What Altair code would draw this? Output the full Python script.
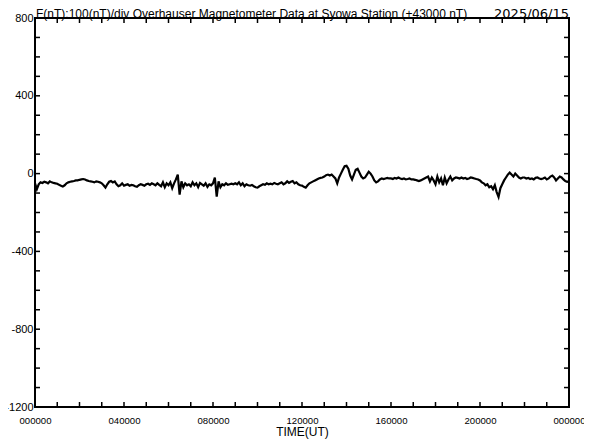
import altair as alt
import pandas as pd

# F (nT) minus 43000, 5-minute samples, one row per hour
h00 = [-50, -80, -55, -45, -48, -42, -45, -50, -40, -45, -48, -50]
h01 = [-52, -58, -62, -66, -60, -50, -45, -42, -40, -38, -35, -35]
h02 = [-32, -30, -28, -30, -35, -38, -40, -42, -45, -40, -42, -45]
h03 = [-50, -60, -72, -55, -42, -38, -45, -40, -55, -65, -60, -50]
h04 = [-62, -58, -55, -62, -58, -60, -65, -68, -60, -55, -58, -62]
h05 = [-55, -52, -58, -50, -55, -60, -50, -58, -65, -45, -70, -50]
h06 = [-60, -45, -75, -50, -30, -5, -108, -40, -70, -50, -60, -55]
h07 = [-65, -45, -60, -50, -70, -48, -55, -62, -50, -68, -55, -60]
h08 = [-50, -20, -118, -40, -70, -55, -60, -50, -58, -55, -52, -55]
h09 = [-50, -55, -45, -60, -50, -65, -55, -60, -62, -58, -65, -70]
h10 = [-72, -65, -60, -55, -58, -50, -55, -52, -55, -48, -52, -55]
h11 = [-50, -45, -55, -50, -40, -48, -42, -38, -50, -45, -55, -60]
h12 = [-62, -68, -72, -60, -50, -45, -40, -35, -30, -25, -22, -20]
h13 = [-15, -8, -5, -10, -5, -15, -25, -50, -20, 0, 20, 38]
h14 = [40, 25, -10, -30, -5, 20, 25, 5, -15, -25, -20, -5]
h15 = [10, 0, -15, -35, -45, -40, -30, -25, -28, -25, -22, -25]
h16 = [-25, -28, -22, -25, -20, -25, -28, -25, -30, -28, -25, -30]
h17 = [-30, -32, -35, -38, -35, -30, -25, -20, -15, -40, -20, -35]
h18 = [-55, -15, -45, -25, -60, -20, -50, -30, -15, -35, -25, -20]
h19 = [-22, -25, -20, -25, -22, -28, -25, -20, -22, -25, -28, -30]
h20 = [-35, -45, -50, -60, -55, -70, -65, -80, -60, -95, -120, -75]
h21 = [-55, -35, -20, -5, 5, -5, -15, 0, -10, -20, -25, -20]
h22 = [-20, -25, -22, -28, -25, -30, -22, -20, -25, -28, -25, -20]
h23 = [-30, -25, -15, -10, -20, -35, -25, -15, -20, -30, -38, -42]
end_value = [-40]

hours = [h00, h01, h02, h03, h04, h05, h06, h07, h08, h09, h10, h11,
         h12, h13, h14, h15, h16, h17, h18, h19, h20, h21, h22, h23]
values = [v for h in hours for v in h] + end_value
times = [i / 12 for i in range(len(values))]

y_label_values = [-1200, -800, -400, 0, 400, 800]
y_minor_ticks = list(range(-1100, 800, 100))
x_label_values = [0, 4, 8, 12, 16, 20, 24]
x_minor_ticks = list(range(1, 24))

title_text = "F(nT):100(nT)/div  Overhauser Magnetometer Data at Syowa Station (+43000 nT)"
date_text = "2025/06/15"

W, H = 534, 389
FONT = "Liberation Sans"

df = pd.DataFrame({"t": times, "v": values})
xs = alt.Scale(domain=[0, 24], nice=False, zero=False)
ys = alt.Scale(domain=[-1200, 800], nice=False, zero=False)

x_axis = alt.Axis(
    values=x_label_values,
    labelExpr="datum.value == 24 ? '000000' : (datum.value < 10 ? '0' : '') + datum.value + '0000'",
    tickSize=0, domain=False, grid=False, labelFlush=False, labelOverlap=False,
    labelFont=FONT, labelFontSize=9.6, labelColor="black", labelPadding=8,
    title="TIME(UT)", titleFont=FONT, titleFontSize=12, titleFontWeight="normal",
    titleColor="black", titlePadding=2)
y_axis = alt.Axis(
    values=y_label_values,
    labelExpr="datum.value < 0 ? '-' + abs(datum.value) : '' + datum.value",
    tickSize=0, domain=False, grid=False, labelOverlap=False,
    labelFont=FONT, labelFontSize=11, labelColor="black", labelPadding=2,
    title=None)

line = alt.Chart(df).mark_line(color="black", strokeWidth=2.2).encode(
    x=alt.X("t:Q", scale=xs, axis=x_axis),
    y=alt.Y("v:Q", scale=ys, axis=y_axis),
)

ydf = pd.DataFrame({"v": y_minor_ticks})
xdf = pd.DataFrame({"t": x_minor_ticks})

ytl = alt.Chart(ydf).mark_rule(color="black", strokeWidth=1.5).encode(
    y=alt.Y("v:Q", scale=ys, axis=y_axis), x=alt.value(0), x2=alt.value(5))
ytr = alt.Chart(ydf).mark_rule(color="black", strokeWidth=1.5).encode(
    y=alt.Y("v:Q", scale=ys, axis=y_axis), x=alt.value(W - 5), x2=alt.value(W))
xtt = alt.Chart(xdf).mark_rule(color="black", strokeWidth=1.5).encode(
    x=alt.X("t:Q", scale=xs, axis=x_axis), y=alt.value(0), y2=alt.value(5))
xtb = alt.Chart(xdf).mark_rule(color="black", strokeWidth=1.5).encode(
    x=alt.X("t:Q", scale=xs, axis=x_axis), y=alt.value(H - 5), y2=alt.value(H))

title = alt.Chart(pd.DataFrame({"s": [title_text]})).mark_text(
    align="left", baseline="alphabetic", font=FONT, fontSize=12, color="black"
).encode(x=alt.value(1), y=alt.value(-0.5), text="s:N")
date = alt.Chart(pd.DataFrame({"s": [date_text]})).mark_text(
    align="right", baseline="alphabetic", font="DejaVu Sans", fontSize=13, color="black"
).encode(x=alt.value(W), y=alt.value(-0.5), text="s:N")

chart = alt.layer(line, ytl, ytr, xtt, xtb, title, date).properties(
    width=W, height=H,
    autosize=alt.AutoSizeParams(type="none"),
    padding={"left": 27, "top": 10, "right": 15, "bottom": 33},
    background="white",
).configure_view(stroke="black", strokeWidth=2)

chart.save("out.html", embed_options={"renderer": "svg", "actions": False})
